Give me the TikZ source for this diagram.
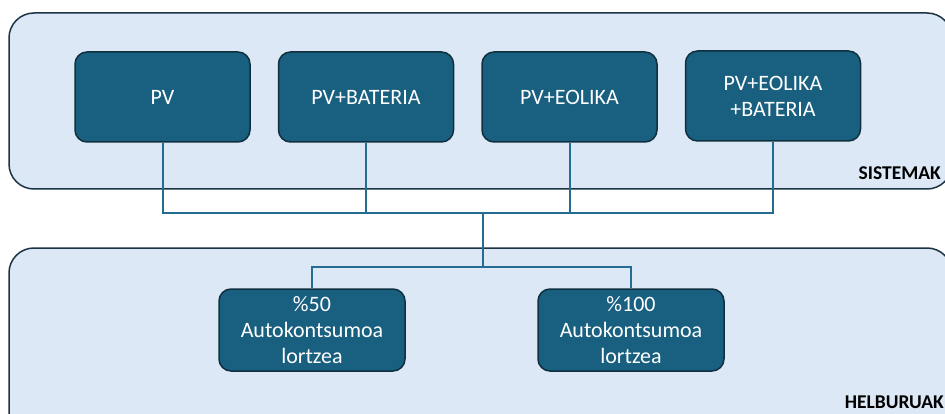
\documentclass[tikz,border=0pt]{standalone}
\usepackage{fontspec}
\setmainfont{Carlito}
\definecolor{bigfill}{HTML}{DCE8F5}
\definecolor{bigdraw}{HTML}{1B3445}
\definecolor{boxfill}{HTML}{185F80}
\definecolor{boxdraw}{HTML}{10303F}
\definecolor{linkc}{HTML}{246C92}
\tikzset{
  group/.style={draw=bigdraw, fill=bigfill, line width=1.5pt, rounded corners=25pt},
  sysbox/.style={draw=boxdraw, fill=boxfill, line width=1.5pt, rounded corners=12pt,
    minimum width=175pt, minimum height=90pt, text=white, align=center,
    font=\fontsize{22}{26}\selectfont, inner sep=0pt},
  goalbox/.style={sysbox, minimum width=186pt, minimum height=82pt},
  link/.style={draw=linkc, line width=2pt},
  grouplabel/.style={font=\bfseries\fontsize{19.5}{22}\selectfont, text=black, inner sep=0pt}
}
\begin{document}
\begin{tikzpicture}[x=1pt,y=-1pt]
\useasboundingbox (0,0) rectangle (945,414);
\clip (0,0) rectangle (945,414);
\fill[white] (0,0) rectangle (945,414);
% group frames
\draw[group] (9,13) rectangle (952,189);
\draw[group] (9,248) rectangle (952,440);
% labels
\node[grouplabel, anchor=base east] (sl) at (941,180) {SISTEMAK};
\node[grouplabel, anchor=base east] (hl) at (944,408) {HELBURUAK};
% junctions
\coordinate (j) at (483,213);
\coordinate (j2) at (483,267);
% boxes
\node[sysbox] (a) at (162.5,97) {PV};
\node[sysbox] (b) at (366,97) {PV+BATERIA};
\node[sysbox] (c) at (569.5,97) {PV+EOLIKA};
\node[sysbox] (d) at (773,96) {PV+EOLIKA\\+BATERIA};
\node[goalbox] (e) at (312,330) {\%50\\Autokontsumoa\\lortzea};
\node[goalbox] (f) at (631,330) {\%100\\Autokontsumoa\\lortzea};
% connectors
\draw[link] (a.south) -- (a.south |- j) -- (d.south |- j) -- (d.south);
\draw[link] (b.south) -- (b.south |- j);
\draw[link] (c.south) -- (c.south |- j);
\draw[link] (j) -- (j2);
\draw[link] (e.north) |- (j2) -| (f.north);
\end{tikzpicture}
\end{document}
